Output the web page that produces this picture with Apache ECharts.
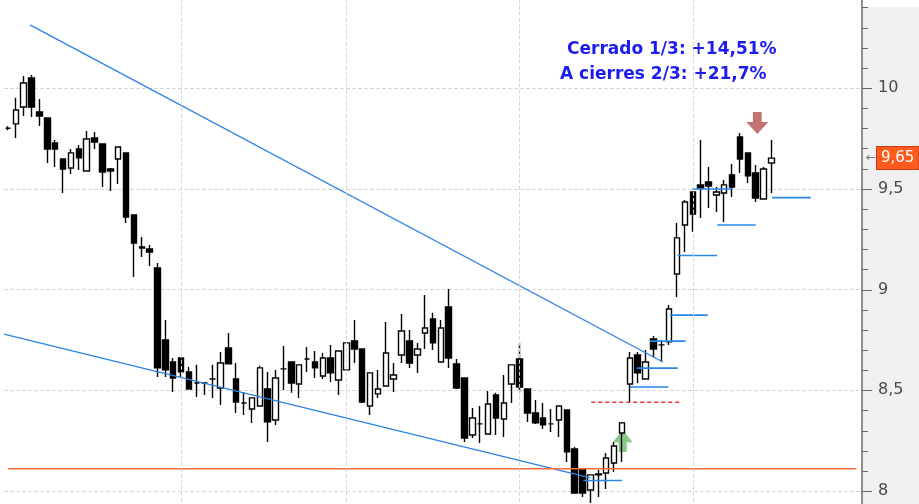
<!DOCTYPE html>
<html>
<head>
<meta charset="utf-8">
<title>Cotización</title>
<script src="https://cdn.jsdelivr.net/npm/echarts/dist/echarts.min.js"></script>
<style>
  html, body { margin: 0; padding: 0; background: #fff; }
  #main { width: 919px; height: 504px; }
</style>
</head>
<body>
<div id="main"></div>
<script>
// velas diarias
var opens = [9.80, 9.822, 9.906, 10.050, 9.881, 9.851, 9.727, 9.648, 9.603, 9.697,
  9.588, 9.752, 9.722, 9.598, 9.648, 9.678, 9.370, 9.206, 9.201, 9.107,
  8.750, 8.640, 8.660, 8.591, 8.536, 8.536, 8.556, 8.511, 8.710, 8.556,
  8.437, 8.407, 8.422, 8.506, 8.352, 8.606, 8.640, 8.531, 8.655, 8.640,
  8.571, 8.660, 8.551, 8.601, 8.745, 8.705, 8.422, 8.482, 8.521, 8.556,
  8.675, 8.745, 8.675, 8.784, 8.854, 8.640, 8.913, 8.631, 8.561, 8.278,
  8.333, 8.283, 8.477, 8.357, 8.531, 8.655, 8.506, 8.387, 8.362, 8.333,
  8.352, 8.402, 8.209, 8.109, 8.005, 8.084, 8.089, 8.139, 8.288, 8.531,
  8.675, 8.556, 8.754, 8.725, 8.740, 9.077, 9.320, 9.484, 9.519, 9.534,
  9.469, 9.479, 9.569, 9.757, 9.678, 9.578, 9.449, 9.628];
var closes = [9.80, 9.891, 10.025, 9.906, 9.861, 9.697, 9.697, 9.598, 9.678, 9.653,
  9.747, 9.732, 9.583, 9.588, 9.707, 9.360, 9.231, 9.211, 9.186, 8.611,
  8.601, 8.561, 8.591, 8.506, 8.536, 8.536, 8.556, 8.635, 8.631, 8.442,
  8.437, 8.462, 8.611, 8.343, 8.561, 8.606, 8.536, 8.626, 8.655, 8.611,
  8.660, 8.586, 8.695, 8.735, 8.705, 8.442, 8.586, 8.506, 8.685, 8.576,
  8.794, 8.635, 8.705, 8.809, 8.735, 8.809, 8.660, 8.511, 8.263, 8.362,
  8.333, 8.432, 8.362, 8.437, 8.626, 8.516, 8.387, 8.338, 8.328, 8.333,
  8.422, 8.194, 7.990, 7.990, 8.080, 8.080, 8.164, 8.223, 8.338, 8.660,
  8.586, 8.640, 8.705, 8.725, 8.903, 9.256, 9.434, 9.375, 9.504, 9.514,
  9.484, 9.519, 9.509, 9.648, 9.564, 9.454, 9.598, 9.652];
var lows = [9.79, 9.752, 9.861, 9.856, 9.812, 9.628, 9.608, 9.479, 9.573, 9.593,
  9.588, 9.697, 9.509, 9.489, 9.524, 9.330, 9.062, 9.161, 9.117, 8.566,
  8.566, 8.491, 8.566, 8.506, 8.467, 8.477, 8.462, 8.427, 8.631, 8.387,
  8.377, 8.338, 8.422, 8.243, 8.328, 8.501, 8.487, 8.462, 8.591, 8.561,
  8.556, 8.541, 8.477, 8.601, 8.635, 8.437, 8.377, 8.462, 8.521, 8.491,
  8.635, 8.611, 8.586, 8.705, 8.700, 8.640, 8.611, 8.506, 8.243, 8.263,
  8.238, 8.283, 8.278, 8.268, 8.437, 8.487, 8.343, 8.333, 8.308, 8.293,
  8.268, 8.144, 7.990, 7.970, 7.941, 7.970, 8.010, 8.094, 8.144, 8.437,
  8.536, 8.556, 8.665, 8.640, 8.725, 8.963, 9.186, 9.286, 9.355, 9.405,
  9.385, 9.335, 9.459, 9.578, 9.529, 9.434, 9.449, 9.479];
var highs = [9.81, 9.951, 10.060, 10.065, 9.946, 9.851, 9.742, 9.648, 9.697, 9.717,
  9.787, 9.782, 9.722, 9.603, 9.707, 9.678, 9.370, 9.261, 9.221, 9.132,
  8.849, 8.660, 8.660, 8.616, 8.626, 8.541, 8.626, 8.690, 8.784, 8.635,
  8.491, 8.462, 8.621, 8.591, 8.601, 8.720, 8.640, 8.626, 8.715, 8.695,
  8.685, 8.725, 8.695, 8.735, 8.849, 8.705, 8.586, 8.601, 8.839, 8.635,
  8.879, 8.799, 8.735, 8.973, 8.884, 8.849, 9.003, 8.655, 8.561, 8.412,
  8.422, 8.496, 8.487, 8.576, 8.626, 8.735, 8.506, 8.452, 8.437, 8.407,
  8.422, 8.402, 8.218, 8.109, 8.080, 8.104, 8.189, 8.243, 8.343, 8.690,
  8.690, 8.700, 8.769, 8.750, 8.923, 9.330, 9.444, 9.484, 9.742, 9.608,
  9.509, 9.544, 9.623, 9.777, 9.678, 9.618, 9.608, 9.742];

// 98 sesiones + huecos a la derecha
var categories = Array.from({ length: 109 }, function (_, i) { return 'S' + (i + 1); });
var monthStarts = [22, 43, 65, 87];

// marcas del eje de precios (décimas)
var minorTicks = [7.9, 8.0, 8.1, 8.2, 8.3, 8.4, 8.5, 8.6, 8.7, 8.8, 8.9, 9.0,
  9.1, 9.2, 9.3, 9.4, 9.5, 9.6, 9.7, 9.8, 9.9, 10.0, 10.1, 10.2, 10.3, 10.4];
var majorTicks = [8, 8.5, 9, 9.5, 10];

// directrices [indice, precio]
var trendUpper = [[2.8, 10.313], [83.2, 8.640]];
var trendLower = [[-0.5, 8.779], [74.0, 8.065]];
var supportLevel = 8.11;
var supportSpan = [0, 107.8];
var breakoutLevel = 8.44;
var breakoutSpan = [74.1, 85.4];
// stops: [desde, hasta, nivel]
var stops = [
  [73.1, 78.0, 8.052],
  [79.0, 83.9, 8.516],
  [79.9, 85.1, 8.610],
  [81.6, 86.1, 8.744],
  [84.1, 88.9, 8.873],
  [85.1, 90.1, 9.169],
  [86.9, 92.1, 9.499],
  [90.1, 95.0, 9.320],
  [97.1, 102.0, 9.456]
];
var buySignal = [78.1, 8.248];
var sellSignal = [95.2, 9.826];
var notes = ['Cerrado 1/3: +14,51%', 'A cierres 2/3: +21,7%'];

var candles = opens.map(function (o, i) {
  return [o, closes[i], lows[i], highs[i]];
});
var lastClose = closes[closes.length - 1];
var toEs = function (v) { return String(v).replace('.', ','); };

var chart = echarts.init(document.getElementById('main'));

var lineSeries = function (data, color, width, type, z) {
  return {
    type: 'line', xAxisIndex: 1, yAxisIndex: 0, data: data,
    symbol: 'none', silent: true, z: z || 3,
    lineStyle: { color: color, width: width, type: type || 'solid' }
  };
};

var series = [
  {
    // rejilla vertical (inicio de mes)
    type: 'line', xAxisIndex: 1, data: [[monthStarts[0], 9]],
    symbol: 'none', silent: true, z: 1,
    lineStyle: { opacity: 0 },
    markLine: {
      silent: true, symbol: ['none', 'none'], animation: false,
      label: { show: false },
      lineStyle: { type: 'dashed', color: '#d6d6d6', width: 1 },
      data: monthStarts.map(function (m) { return { xAxis: m }; })
    }
  },
  {
    type: 'candlestick',
    data: candles,
    barWidth: 6,
    z: 2,
    itemStyle: {
      color: '#ffffff', color0: '#000000',
      borderColor: '#000000', borderColor0: '#000000', borderColorDoji: '#000000',
      borderWidth: 1.4
    }
  },
  lineSeries(trendUpper, '#2a82e6', 1.3),
  lineSeries(trendLower, '#2a82e6', 1.3),
  lineSeries([[supportSpan[0], supportLevel], [supportSpan[1], supportLevel]], '#ff6a3a', 1.5),
  lineSeries([[breakoutSpan[0], breakoutLevel], [breakoutSpan[1], breakoutLevel]], '#f03030', 1.5, [4, 3])
];

stops.forEach(function (s) {
  series.push(lineSeries([[s[0], s[2]], [s[1], s[2]]], '#2a86e8', 1.6));
});

series.push({
  type: 'scatter', xAxisIndex: 1, data: [buySignal], silent: true, z: 1,
  symbol: 'path://M10,0 L20,11 L14,11 L14,20 L6,20 L6,11 L0,11 Z',
  symbolSize: [20, 22],
  itemStyle: { color: 'rgba(70,170,70,0.8)' }
});
series.push({
  type: 'scatter', xAxisIndex: 1, data: [sellSignal], silent: true, z: 4,
  symbol: 'path://M6,0 L14,0 L14,9 L20,9 L10,20 L0,9 L6,9 Z',
  symbolSize: [22, 22],
  itemStyle: { color: '#b4504e' }
});

var baseGraphic = [
  {
    // franja blanca a la izquierda del área de trazado
    id: 'leftStrip', type: 'rect', z: -1, silent: true,
    shape: { x: 0, y: 0, width: 4, height: 504 },
    style: { fill: '#ffffff' }
  },
  {
    // parte superior del eje, sin fondo gris
    id: 'topStrip', type: 'rect', z: -1, silent: true,
    shape: { x: 862, y: 0, width: 57, height: 7 },
    style: { fill: '#ffffff' }
  },
  {
    id: 'note1', type: 'text', x: 567, y: 50, z: 6, silent: true,
    style: {
      text: notes[0], fill: '#1c1cf0', verticalAlign: 'middle',
      font: 'bold 17px "DejaVu Sans"'
    }
  },
  {
    id: 'note2', type: 'text', x: 560, y: 75, z: 6, silent: true,
    style: {
      text: notes[1], fill: '#1c1cf0', verticalAlign: 'middle',
      font: 'bold 17px "DejaVu Sans"'
    }
  }
];

var option = {
  animation: false,
  backgroundColor: '#f0f0f0',
  grid: {
    left: 4, right: 57, top: -12.75, bottom: -87.75,
    show: true, backgroundColor: '#ffffff', borderWidth: 0,
    containLabel: false, outerBoundsMode: 'none'
  },
  xAxis: [
    {
      type: 'category', data: categories, boundaryGap: true,
      axisLine: { show: false }, axisTick: { show: false },
      axisLabel: { show: false }, splitLine: { show: false }
    },
    {
      type: 'value', min: -0.5, max: categories.length - 0.5,
      show: false
    }
  ],
  yAxis: {
    type: 'value', position: 'right',
    min: 7.5, max: 10.5, interval: 0.5,
    axisLine: { show: true, onZero: false, lineStyle: { color: '#6a6a6a', width: 1.5 } },
    axisTick: { show: false },
    axisLabel: {
      margin: 16, color: '#4a4a4a', fontSize: 16, fontFamily: 'DejaVu Sans',
      formatter: function (v) { return toEs(v); }
    },
    splitLine: { show: true, lineStyle: { type: 'dashed', color: '#d6d6d6', width: 1 } }
  },
  graphic: baseGraphic,
  series: series
};

chart.setOption(option);

// marcas del eje y etiqueta del último cierre, situadas con la escala del eje
var axisX = chart.convertToPixel({ xAxisIndex: 1 }, categories.length - 0.5);
var tickMarks = minorTicks.map(function (v, i) {
  var y = Math.round(chart.convertToPixel({ yAxisIndex: 0 }, v)) + 0.5;
  var isMajor = majorTicks.indexOf(v) >= 0;
  return {
    id: 'tick' + i, type: 'line', z: 5, silent: true,
    shape: { x1: axisX, y1: y, x2: axisX + (isMajor ? 10 : 6), y2: y },
    style: { stroke: '#666', lineWidth: 1 }
  };
});
var yLast = chart.convertToPixel({ yAxisIndex: 0 }, lastClose);
chart.setOption({
  graphic: baseGraphic.concat(tickMarks, [
    {
      id: 'lastArrow', type: 'text', x: axisX + 4, y: yLast, z: 7, silent: true,
      style: { text: '←', fill: '#777', font: '12px "DejaVu Sans"', verticalAlign: 'middle' }
    },
    {
      id: 'lastLabel', type: 'text', x: axisX + 15, y: yLast, z: 7, silent: true,
      style: {
        text: toEs(lastClose.toFixed(2)), fill: '#ffffff', verticalAlign: 'middle',
        font: '15px "DejaVu Sans"', backgroundColor: '#ff5a1e',
        padding: [4, 4, 3, 4], borderColor: '#c84010', borderWidth: 1
      }
    }
  ])
});
</script>
</body>
</html>
